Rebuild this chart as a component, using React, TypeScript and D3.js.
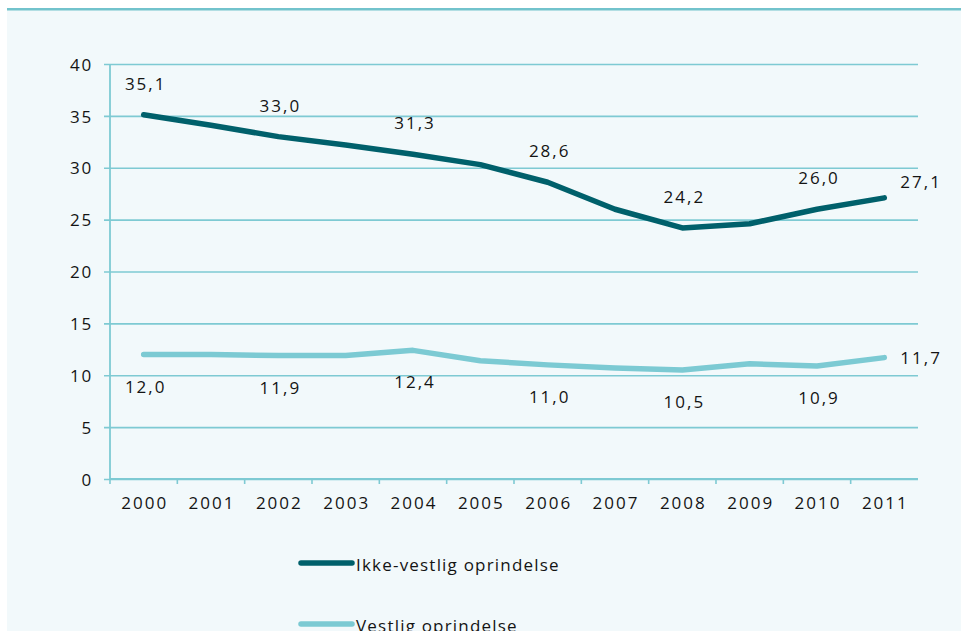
import React, { useRef, useEffect } from 'react'
import * as d3 from 'd3'

const years = ['2000', '2001', '2002', '2003', '2004', '2005', '2006', '2007', '2008', '2009', '2010', '2011']
const ikkeVestlig = [35.1, 34.1, 33.0, 32.2, 31.3, 30.3, 28.6, 26.0, 24.2, 24.6, 26.0, 27.1]
const vestlig = [12.0, 12.0, 11.9, 11.9, 12.4, 11.4, 11.0, 10.7, 10.5, 11.1, 10.9, 11.7]
const yTicks = [0, 5, 10, 15, 20, 25, 30, 35, 40]
const labelledYears = ['2000', '2002', '2004', '2006', '2008', '2010', '2011']
const seriesNames = ['Ikke-vestlig oprindelse', 'Vestlig oprindelse']

const FONT = '"Open Sans", "DejaVu Sans", sans-serif'

const App = () => {
    const visEl = useRef<HTMLDivElement>(null)
    const width = 961
    const height = 631

    useEffect(() => {
        const root = d3.select(visEl.current)
        root.selectAll('*').remove()
        const svg = root.append('svg')
            .attr('width', width)
            .attr('height', height)
            .style('position', 'fixed')
            .style('left', 0)
            .style('top', 0)
            .style('font-family', FONT)

        // page + panel
        svg.append('rect').attr('width', width).attr('height', height).attr('fill', '#ffffff')
        svg.append('rect').attr('x', 7).attr('y', 9).attr('width', width - 7).attr('height', height - 9).attr('fill', '#f2f9fb')
        svg.append('rect').attr('x', 7).attr('y', 8).attr('width', width - 7).attr('height', 2.5).attr('fill', '#72c3cc')

        const gridColor = '#7ecad3'
        const textColor = '#141414'
        const xScale = d3.scaleBand().domain(years).range([110, 918]).padding(0)
        const yScale = d3.scaleLinear().domain([0, 40]).range([479, 64])
        const cx = (y: string) => (xScale(y) as number) + xScale.bandwidth() / 2

        // gridlines + y ticks
        const yAxis = d3.axisLeft(yScale).tickValues(yTicks).tickSize(-(918 - 110)).tickPadding(17).tickFormat(d3.format('d'))
        const yAxisG = svg.append('g').attr('transform', 'translate(110,0)').call(yAxis)
        yAxisG.select('.domain').remove()
        yAxisG.selectAll('.tick line').attr('stroke', gridColor).attr('stroke-width', 1.6).attr('x1', -6)
        yAxisG.selectAll('.tick text')
            .attr('fill', textColor).attr('font-size', 17).attr('font-family', FONT)
            .attr('letter-spacing', 1.8).attr('dy', '0.36em')

        // y axis line
        svg.append('line').attr('x1', 110).attr('x2', 110).attr('y1', 64).attr('y2', 479)
            .attr('stroke', gridColor).attr('stroke-width', 1.8)

        // x axis
        const xAxisG = svg.append('g').attr('transform', 'translate(0,479)')
        xAxisG.append('line').attr('x1', 110).attr('x2', 918).attr('stroke', gridColor).attr('stroke-width', 2)
        xAxisG.selectAll('.xtick').data(years).enter().append('line')
            .attr('x1', d => xScale(d) as number).attr('x2', d => xScale(d) as number)
            .attr('y1', 0).attr('y2', 5)
            .attr('stroke', gridColor).attr('stroke-width', 1.6)
        xAxisG.selectAll('.xlabel').data(years).enter().append('text')
            .attr('x', d => cx(d) + 1).attr('y', 30)
            .attr('text-anchor', 'middle')
            .attr('font-size', 17).attr('letter-spacing', 2).attr('fill', textColor)
            .text(d => d)

        const series = [
            { name: seriesNames[0], values: ikkeVestlig, color: '#00606b', labelDy: -25, lastDy: -10 },
            { name: seriesNames[1], values: vestlig, color: '#7ccad3', labelDy: 38, lastDy: 6 },
        ]

        const lineGen = d3.line<number>()
            .x((_, i) => cx(years[i]))
            .y(d => yScale(d))

        // draw light series first so dark sits on top
        series.slice().reverse().forEach(s => {
            svg.append('path')
                .attr('d', lineGen(s.values))
                .attr('fill', 'none')
                .attr('stroke', s.color)
                .attr('stroke-width', 5.5)
                .attr('stroke-linejoin', 'round')
                .attr('stroke-linecap', 'round')
        })

        series.forEach(s => {
            const lastIdx = years.length - 1
            svg.append('g').selectAll('text')
                .data(years.map((y, i) => ({ y, v: s.values[i], i })).filter(d => labelledYears.includes(d.y)))
                .enter().append('text')
                .attr('x', d => d.i === lastIdx ? cx(d.y) + 16 : cx(d.y) + 2)
                .attr('y', d => yScale(d.v) + (d.i === lastIdx ? s.lastDy : s.labelDy))
                .attr('text-anchor', d => d.i === lastIdx ? 'start' : 'middle')
                .attr('font-size', 17).attr('letter-spacing', 2).attr('fill', textColor)
                .text(d => d3.format('.1f')(d.v).replace('.', ','))
        })

        // legend
        const legend = svg.append('g')
        series.forEach((s, i) => {
            const ly = 563 + i * 61
            legend.append('line').attr('x1', 301).attr('x2', 352).attr('y1', ly).attr('y2', ly)
                .attr('stroke', s.color).attr('stroke-width', 5.5).attr('stroke-linecap', 'round')
            legend.append('text').attr('x', 356).attr('y', ly + 8)
                .attr('font-size', 17).attr('letter-spacing', 1.2).attr('fill', textColor)
                .text(s.name)
        })
    }, [])

    return (
        <div>
            <div ref={visEl}></div>
        </div>
    )
}

export default App
